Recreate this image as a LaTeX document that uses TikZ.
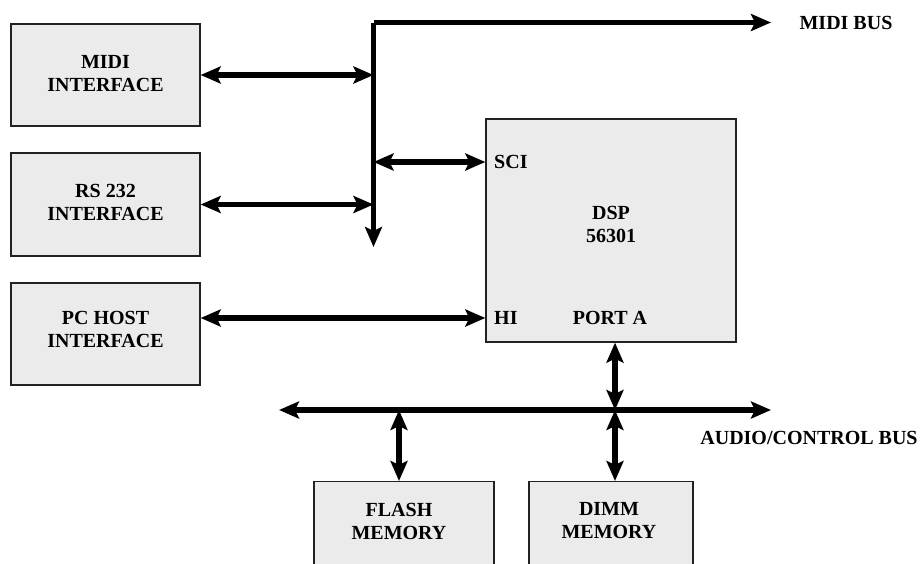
\documentclass[tikz,border=0pt]{standalone}
\usepackage{fontspec}
\setmainfont{Liberation Serif}
\usetikzlibrary{arrows.meta}
\definecolor{boxfill}{HTML}{EBEBEB}
\definecolor{boxline}{HTML}{222222}
\begin{document}
\begin{tikzpicture}[x=1pt,y=-1pt,
  box/.style={draw=boxline, line width=1.3pt, fill=boxfill, inner sep=0pt},
  txt/.style={inner sep=0pt, align=center, font=\bfseries\fontsize{20}{23}\selectfont},
  bus/.style={line width=5.2pt},
  onearrow/.style={bus, -{Stealth[length=20pt,width=17pt,inset=4pt]}},
  twoarrow/.style={bus, {Stealth[length=20pt,width=17pt,inset=4pt]}-{Stealth[length=20pt,width=17pt,inset=4pt]}}
]
\useasboundingbox (0,0) rectangle (922,563);
\begin{scope}
\clip (0,0) rectangle (922,563);
% boxes
\node[box, minimum width=189pt, minimum height=102pt] (midi) at (105.5,75) {};
\node[box, minimum width=189pt, minimum height=103pt] (rs) at (105.5,204.5) {};
\node[box, minimum width=189pt, minimum height=102pt] (pc) at (105.5,334) {};
\node[box, minimum width=250pt, minimum height=223pt] (dsp) at (611,230.5) {};
\node[box, minimum width=180pt, minimum height=120pt, anchor=north] (flash) at (404,481) {};
\node[box, minimum width=164pt, minimum height=120pt, anchor=north] (dimm) at (611,481) {};
% texts
\node[txt] (midit) at (105.5,74) {MIDI\\INTERFACE};
\node[txt] (rst) at (105.5,202) {RS 232\\INTERFACE};
\node[txt] (pct) at (105.5,329) {PC HOST\\INTERFACE};
\node[txt] (dspt) at (611,224) {DSP\\56301};
\node[txt, anchor=west] (sci) at (494,162) {SCI};
\node[txt, anchor=west] (hi) at (494,318) {HI};
\node[txt] (porta) at (610,318) {PORT A};
\node[txt] (flasht) at (399,521) {FLASH\\MEMORY};
\node[txt] (dimmt) at (609,521) {DIMM\\MEMORY};
\node[txt] (midibus) at (846,23) {MIDI BUS};
\node[txt] (audiobus) at (809,438) {AUDIO/CONTROL BUS};
\end{scope}
% MIDI bus
\coordinate (corner) at (373.5,22.5);
\coordinate (midiend) at (771,22.5);
\coordinate (vend) at (373.5,247);
\draw[onearrow] (corner) -- (midiend);
\draw[onearrow] (corner) -- (vend);
\draw[twoarrow] (midi.east) -- (midi.east -| corner);
\draw[twoarrow] (rs.east) -- (rs.east -| corner);
\draw[twoarrow] (sci.west -| corner) -- (sci.west -| dsp.west);
\draw[twoarrow] (pc.east |- hi.west) -- (hi.west -| dsp.west);
% audio/control bus
\coordinate (aleft) at (279,410);
\coordinate (aright) at (771,410);
\coordinate (pa) at (615,410);
\coordinate (fa) at (399,410);
\draw[twoarrow] (aleft) -- (aright);
\draw[twoarrow] (pa |- dsp.south) -- (pa);
\draw[twoarrow] (pa) -- (pa |- dimm.north);
\draw[twoarrow] (fa) -- (fa |- flash.north);
\end{tikzpicture}
\end{document}
